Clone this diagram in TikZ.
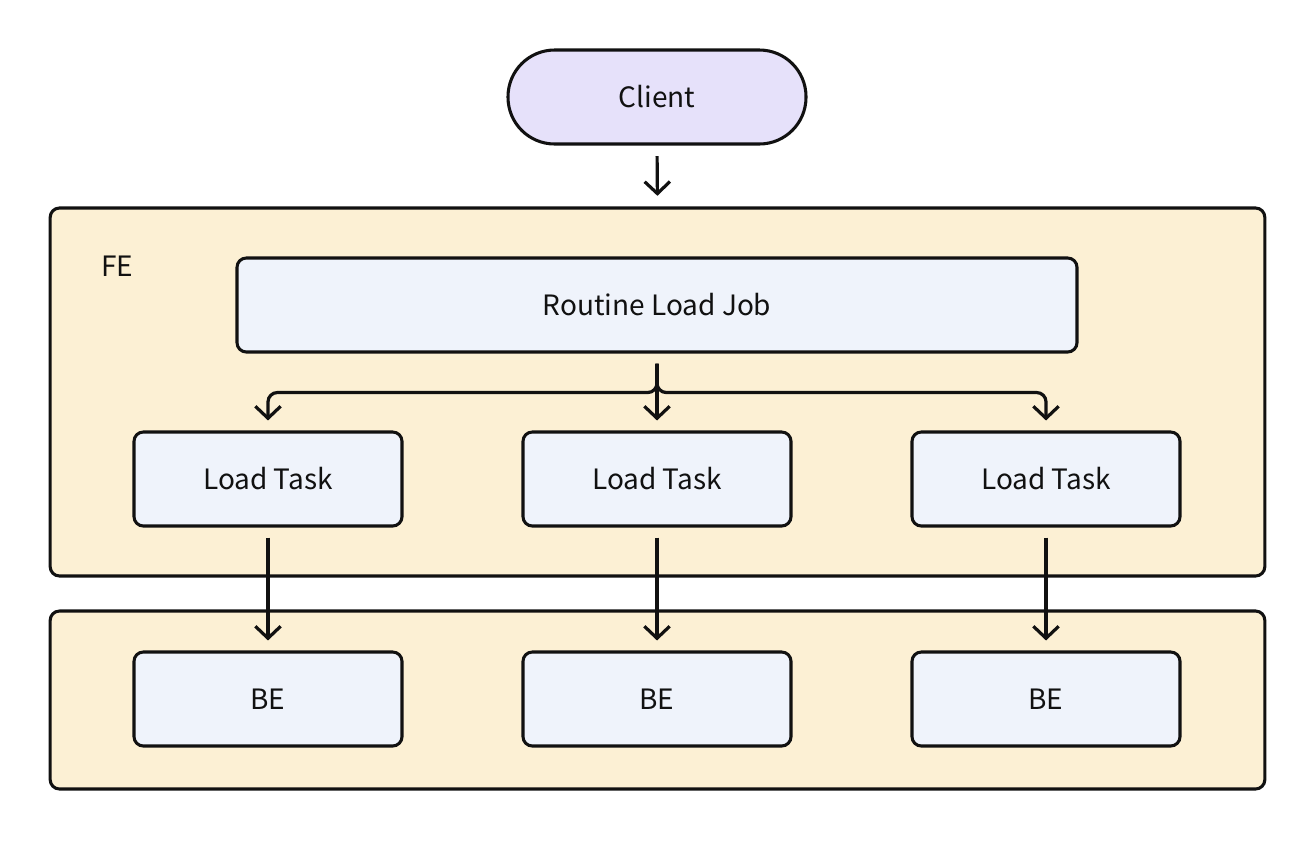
\documentclass[tikz,border=0pt]{standalone}
\usepackage{fontspec}
\setmainfont{Noto Sans CJK SC}
\usetikzlibrary{arrows.meta}
\definecolor{clientfill}{HTML}{E6E1FA}
\definecolor{groupfill}{HTML}{FCF0D4}
\definecolor{boxfill}{HTML}{EFF3FB}
\definecolor{edge}{HTML}{111111}
\begin{document}
\begin{tikzpicture}[x=0.75pt,y=-0.75pt]
	\tikzstyle{group}=[draw=edge,fill=groupfill,line width=2.3pt,rounded corners=7pt,minimum width=911pt]
	\tikzstyle{box}=[draw=edge,fill=boxfill,line width=2.3pt,rounded corners=7pt,minimum height=70.5pt,font=\fontsize{21}{24}\selectfont,text=edge]
	\tikzstyle{arr}=[-{Straight Barb[length=9pt,width=19pt]},draw=edge,line width=2.4pt]
	\useasboundingbox (0,0) rectangle (1316,840);
	\node[group,minimum height=276pt](fe) at (657.5,392) {};
	\node[group,minimum height=133.5pt](bes) at (657.5,700) {};
	\node[font=\fontsize{21}{24}\selectfont,text=edge](felabel) at (117,266) {FE};
	\node[box,rounded corners=35pt,fill=clientfill,minimum width=223.5pt](client) at (657,97) {Client};
	\node[box,minimum width=630pt](job) at (657,305) {Routine Load Job};
	\node[box,minimum width=201pt](t1) at (268,479) {Load Task};
	\node[box,minimum width=201pt](t2) at (657,479) {Load Task};
	\node[box,minimum width=201pt](t3) at (1046,479) {Load Task};
	\node[box,minimum width=201pt](b1) at (268,699) {BE};
	\node[box,minimum width=201pt](b2) at (657,699) {BE};
	\node[box,minimum width=201pt](b3) at (1046,699) {BE};
	\draw[arr,shorten <=8pt,shorten >=8pt](client.south) -- (fe.north);
	\draw[arr,rounded corners=7pt,shorten <=7.5pt,shorten >=7.5pt](job.south) -- ++(0,39) -| (t1.north);
	\draw[arr,shorten <=7.5pt,shorten >=7.5pt](job.south) -- (t2.north);
	\draw[arr,rounded corners=7pt,shorten <=7.5pt,shorten >=7.5pt](job.south) -- ++(0,39) -| (t3.north);
	\draw[arr,shorten <=7.5pt,shorten >=7.5pt](t1.south) -- (b1.north);
	\draw[arr,shorten <=7.5pt,shorten >=7.5pt](t2.south) -- (b2.north);
	\draw[arr,shorten <=7.5pt,shorten >=7.5pt](t3.south) -- (b3.north);
\end{tikzpicture}
\end{document}
